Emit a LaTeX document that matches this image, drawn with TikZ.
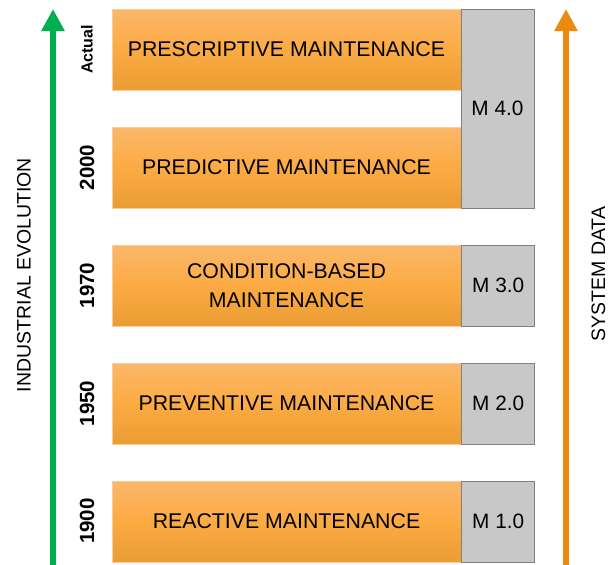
\documentclass[tikz,border=0pt]{standalone}
\usepackage{fontspec}
\setmainfont{Liberation Sans}
\usepackage{tikz}
\usetikzlibrary{positioning,arrows.meta}

\definecolor{evogreen}{HTML}{00B050}
\definecolor{dataorange}{HTML}{EC8A0E}
\definecolor{boxtop}{HTML}{FBB76A}
\definecolor{boxmid}{HTML}{FCAB43}
\definecolor{boxbot}{HTML}{E99D33}
\definecolor{mfill}{HTML}{C8C8C8}

\tikzset{
  stage/.style={rectangle, draw=boxtop!70, line width=0.6pt,
    top color=boxtop, bottom color=boxbot, middle color=boxmid,
    minimum width=349pt, minimum height=81pt, inner sep=0pt,
    align=center, font=\fontsize{21.3}{29}\selectfont},
  mlevel/.style={rectangle, draw=black!50, fill=mfill, line width=0.8pt,
    minimum width=73pt, inner sep=0pt, font=\fontsize{20.8}{24}\selectfont},
  year/.style={rotate=90, font=\bfseries\fontsize{20.5}{24}\selectfont},
  axislabel/.style={rotate=90, font=\fontsize{19.5}{24}\selectfont},
}

\begin{document}
\begin{tikzpicture}[x=1pt, y=-1pt, node distance=36.4pt]
\useasboundingbox (0,0) rectangle (608,565);

% maintenance stages, top to bottom
\node[stage] (presc) at (286.5,49.5) {PRESCRIPTIVE MAINTENANCE};
\node[stage, below=of presc] (pred) {PREDICTIVE MAINTENANCE};
\node[stage, below=of pred] (cbm) {CONDITION-BASED\\MAINTENANCE};
\node[stage, below=of cbm] (prev) {PREVENTIVE MAINTENANCE};
\node[stage, below=of prev] (react) {REACTIVE MAINTENANCE};

% maintenance levels
\node[mlevel, minimum height=199pt] (m4) at (497.5,108.5) {M 4.0};
\node[mlevel, minimum height=81pt, right=0pt of cbm] (m3) {M 3.0};
\node[mlevel, minimum height=81pt, right=0pt of prev] (m2) {M 2.0};
\node[mlevel, minimum height=81pt, right=0pt of react] (m1) {M 1.0};

% years
\node[year, font=\bfseries\fontsize{16}{18}\selectfont] (yact) at (87,49.5) {Actual};
\node[year] (y2000) at (87,167.5) {2000};
\node[year] (y1970) at (87,285.5) {1970};
\node[year] (y1950) at (87,403.5) {1950};
\node[year] (y1900) at (87,521) {1900};

% axes
\coordinate (evolow) at (53,565);
\coordinate (evohigh) at (53,9);
\coordinate (datalow) at (566,565);
\coordinate (datahigh) at (566,9);
\draw[evogreen, line width=6pt, -{Triangle[width=22pt,length=22pt]}] (evolow) -- (evohigh);
\draw[dataorange, line width=6.5pt, -{Triangle[width=22pt,length=22pt]}] (datalow) -- (datahigh);

\node[axislabel] (evo) at (24,275) {INDUSTRIAL EVOLUTION};
\node[axislabel] (sysdata) at (598.5,274) {SYSTEM DATA};
\end{tikzpicture}
\end{document}
